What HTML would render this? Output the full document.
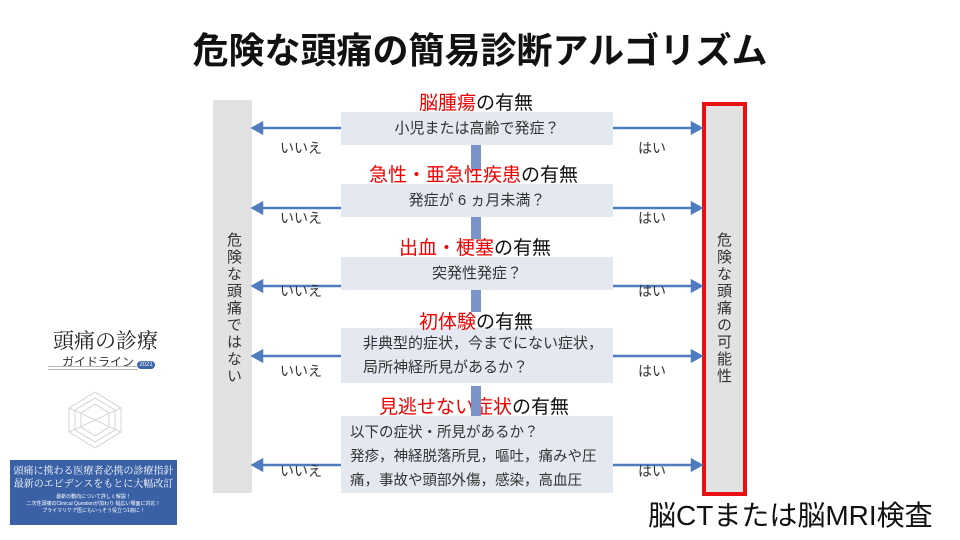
<!DOCTYPE html>
<html><head><meta charset="utf-8">
<style>
body{margin:0;width:960px;height:540px;background:#fff;position:relative;overflow:hidden;font-family:"Liberation Sans","Noto Sans CJK JP",sans-serif;}
.a{position:absolute;}
.title{left:0;width:960px;top:22px;text-align:center;font-size:36px;font-weight:bold;color:#111;}
.box{position:absolute;left:341px;width:272px;background:#e4e8f0;color:#333;font-size:15px;}
.hd{position:absolute;font-size:19px;color:#111;white-space:nowrap;z-index:2;}
.hd span{color:#e00;}
.lt{position:absolute;font-size:14px;color:#333;}
.vt{writing-mode:vertical-rl;font-size:15px;color:#333;letter-spacing:2px;}
.dn{position:absolute;left:471px;width:10px;background:#7a94c9;z-index:3;}
</style></head><body>
<div class="a title">危険な頭痛の簡易診断アルゴリズム</div>

<div class="a" style="left:213px;top:100px;width:39px;height:393px;background:#e2e2e2;"></div>
<div class="a vt" style="left:223px;top:232px;">危険な頭痛ではない</div>
<div class="a" style="left:702px;top:102px;width:37px;height:386px;border:4px solid #e81010;background:#e2e2e2;"></div>
<div class="a vt" style="left:713px;top:232px;">危険な頭痛の可能性</div>

<div class="dn" style="top:145px;height:24px;"></div>
<div class="dn" style="top:217px;height:22px;"></div>
<div class="dn" style="top:290px;height:22px;"></div>
<div class="dn" style="top:386px;height:30px;"></div>

<div class="hd" style="left:419px;top:88px;"><span>脳腫瘍</span>の有無</div>
<div class="box" style="top:112px;height:33px;line-height:33px;text-align:center;">小児または高齢で発症？</div>
<div class="hd" style="left:369px;top:160px;"><span>急性・亜急性疾患</span>の有無</div>
<div class="box" style="top:184px;height:33px;line-height:33px;text-align:center;">発症が 6 ヵ月未満？</div>
<div class="hd" style="left:399px;top:233px;"><span>出血・梗塞</span>の有無</div>
<div class="box" style="top:257px;height:33px;line-height:33px;text-align:center;">突発性発症？</div>
<div class="hd" style="left:419px;top:307px;"><span>初体験</span>の有無</div>
<div class="box" style="top:328px;height:55px;line-height:24px;"><div style="padding:4px 0 0 22px;white-space:nowrap;">非典型的症状，今までにない症状，<br>局所神経所見があるか？</div></div>
<div class="hd" style="left:379px;top:392px;"><span>見逃せない症状</span>の有無</div>
<div class="box" style="top:416px;height:77px;line-height:24px;font-size:14.5px;"><div style="padding:5px 0 0 9px;white-space:nowrap;">以下の症状・所見があるか？<br>発疹，神経脱落所見，嘔吐，痛みや圧<br>痛，事故や頭部外傷，感染，高血圧</div></div>

<svg class="a" style="left:0;top:0" width="960" height="540">
<g stroke="#4f7bbf" stroke-width="2.5" fill="#4f7bbf">
<line x1="341" y1="128" x2="260" y2="128"/><polygon points="253,128 262,123 262,133"/>
<line x1="613" y1="128" x2="693" y2="128"/><polygon points="701,128 692,123 692,133"/>
<line x1="341" y1="208" x2="260" y2="208"/><polygon points="253,208 262,203 262,213"/>
<line x1="613" y1="208" x2="693" y2="208"/><polygon points="701,208 692,203 692,213"/>
<line x1="341" y1="286" x2="260" y2="286"/><polygon points="253,286 262,281 262,291"/>
<line x1="613" y1="286" x2="693" y2="286"/><polygon points="701,286 692,281 692,291"/>
<line x1="341" y1="356" x2="260" y2="356"/><polygon points="253,356 262,351 262,361"/>
<line x1="613" y1="356" x2="693" y2="356"/><polygon points="701,356 692,351 692,361"/>
<line x1="341" y1="465" x2="260" y2="465"/><polygon points="253,465 262,460 262,470"/>
<line x1="613" y1="465" x2="693" y2="465"/><polygon points="701,465 692,460 692,470"/>
</g></svg>
<div class="lt" style="left:280px;top:138px;">いいえ</div><div class="lt" style="left:638px;top:138px;">はい</div>
<div class="lt" style="left:280px;top:208px;">いいえ</div><div class="lt" style="left:638px;top:208px;">はい</div>
<div class="lt" style="left:280px;top:281px;">いいえ</div><div class="lt" style="left:638px;top:281px;">はい</div>
<div class="lt" style="left:280px;top:361px;">いいえ</div><div class="lt" style="left:638px;top:361px;">はい</div>
<div class="lt" style="left:280px;top:461px;">いいえ</div><div class="lt" style="left:638px;top:461px;">はい</div>

<div class="a" style="left:648px;top:494px;font-size:28px;color:#111;white-space:nowrap;">脳CTまたは脳MRI検査</div>

<div class="a" style="left:53px;top:325px;font-size:21px;font-family:'Liberation Serif','Noto Serif CJK SC',serif;color:#222;">頭痛の診療</div>
<div class="a" style="left:62px;top:353px;font-size:12px;color:#333;">ガイドライン <span style="background:#3d64a8;color:#fff;border-radius:6px;font-size:6px;padding:1px 2px;">2021</span></div>
<div class="a" style="left:48px;top:366px;width:90px;height:2px;border-top:1px solid #bbb;border-bottom:1px solid #bbb;"></div>
<svg class="a" style="left:65px;top:390px" width="60" height="60"><g fill="none" stroke="#ccc" stroke-width="0.8">
<polygon points="30,2 56,18 56,42 30,58 4,42 4,18"/><polygon points="30,8 50,20 50,40 30,52 10,40 10,20"/><polygon points="30,14 44,23 44,37 30,46 16,37 16,23"/><line x1="4" y1="18" x2="56" y2="42"/><line x1="56" y1="18" x2="4" y2="42"/></g></svg>
<div class="a" style="left:10px;top:460px;width:167px;height:65px;background:#3a61a6;color:#fff;text-align:center;">
<div style="font-size:10px;line-height:13px;margin-top:5px;font-family:'Liberation Serif','Noto Serif CJK SC',serif;">頭痛に携わる医療者必携の診療指針<br>最新のエビデンスをもとに大幅改訂</div>
<div style="font-size:5px;line-height:7px;margin-top:3px;">最新の動向について詳しく解説！<br>二次性頭痛のClinical Questionが加わり 幅広い場面に対応！<br>プライマリケア医にもいっそう役立つ1冊に！</div></div>
</body></html>
